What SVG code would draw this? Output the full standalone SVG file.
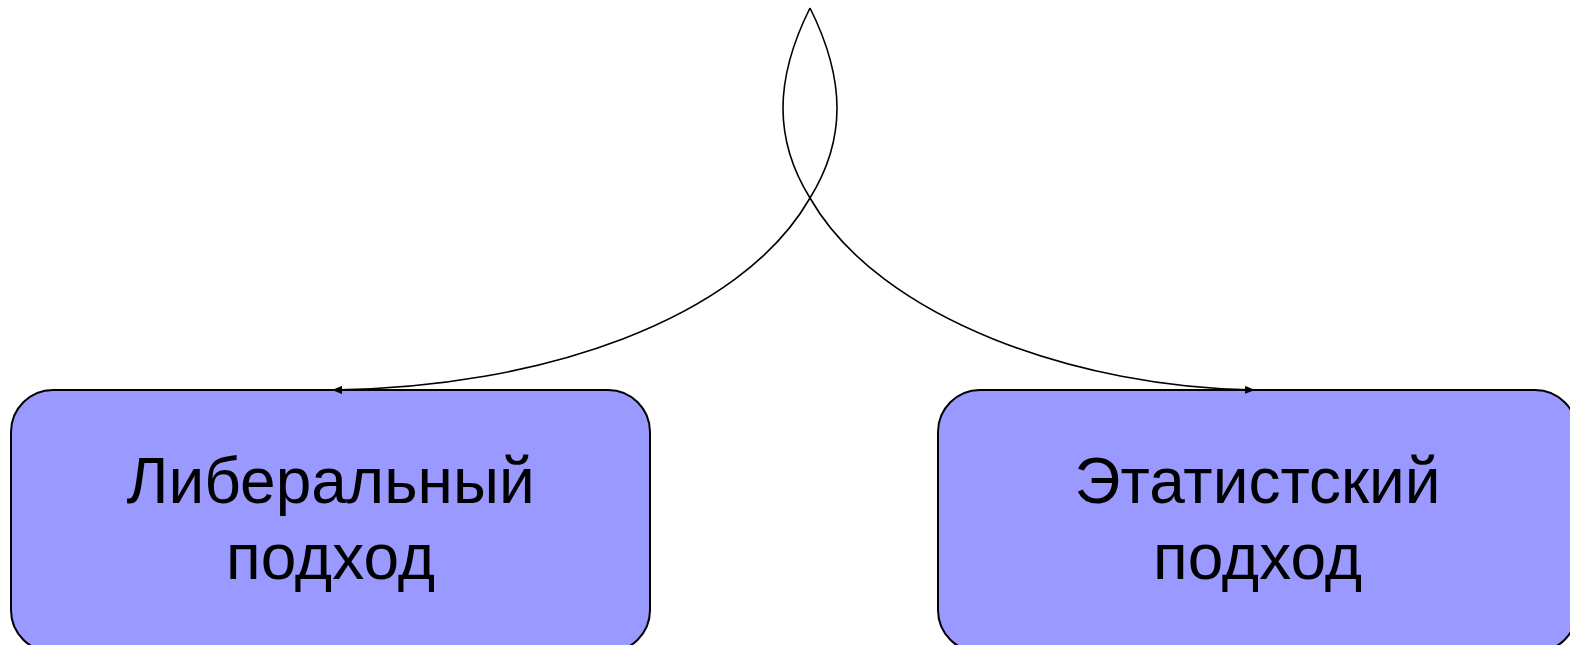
<svg xmlns="http://www.w3.org/2000/svg" width="1570" height="645" viewBox="0 0 1570 645">
<style>
.box{fill:#9999ff;stroke:#000;stroke-width:2}
.lbl{font-family:"Liberation Sans",Arial,sans-serif;font-size:64px;fill:#000;text-anchor:middle}
.edge{fill:none;stroke:#000;stroke-width:1.6}
</style>
<defs>
<marker id="arr" viewBox="0 0 10 8" refX="10" refY="4" markerWidth="10" markerHeight="8" markerUnits="userSpaceOnUse" orient="auto">
<path d="M0,0 L10,4 L0,8 Z" fill="#000"/>
</marker>
</defs>
<rect width="1570" height="645" fill="#fff"/>
<g id="node-liberal">
<rect class="box" x="11" y="390" width="639" height="262" rx="42" ry="42"/>
<text class="lbl" x="330.5" y="503">Либеральный</text>
<text class="lbl" x="330.5" y="579">подход</text>
</g>
<g id="node-etatist">
<rect class="box" x="938" y="390" width="639" height="262" rx="42" ry="42"/>
<text class="lbl" x="1257.5" y="503">Этатистский</text>
<text class="lbl" x="1257.5" y="579">подход</text>
</g>
<g id="connectors">
<path class="edge" marker-end="url(#arr)" d="M810,8 C846,80 846,140 810,198 C740,320 540,388 332,390"/>
<path class="edge" marker-end="url(#arr)" d="M810,8 C774,80 774,140 810,198 C880,320 1080,388 1255,390"/>
</g>
</svg>
